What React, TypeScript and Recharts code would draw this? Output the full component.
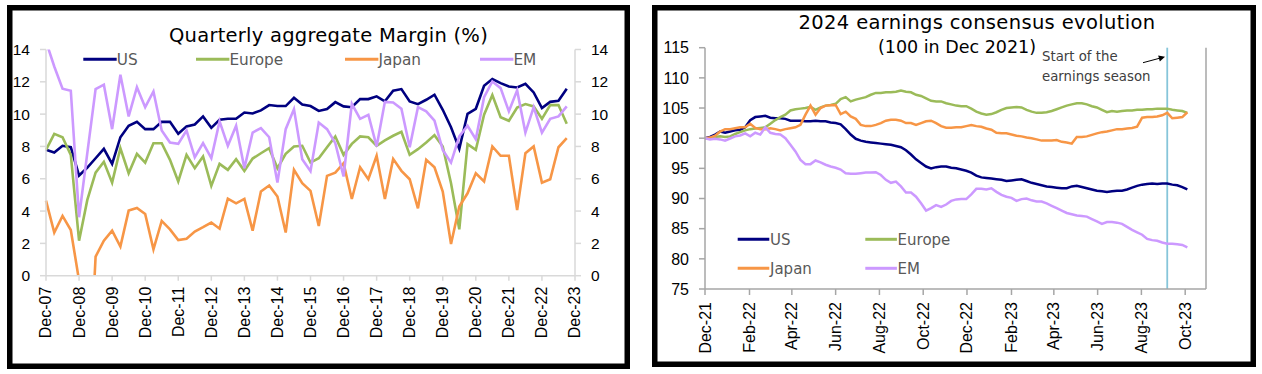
import React from 'react';
import { LineChart, Line, XAxis, YAxis, ReferenceLine } from 'recharts';

// ---------- Left chart: Quarterly aggregate Margin (%) ----------
const marginTickLabels = ['Dec-07','Dec-08','Dec-09','Dec-10','Dec-11','Dec-12','Dec-13','Dec-14','Dec-15','Dec-16','Dec-17','Dec-18','Dec-19','Dec-20','Dec-21','Dec-22','Dec-23'];
const usMargin = [7.79,7.62,8.04,7.95,6.2,6.69,7.27,7.85,6.92,8.57,9.28,9.52,9.07,9.07,9.52,9.52,8.78,9.24,9.36,9.86,9.15,9.65,9.71,9.71,10.1,10.04,10.23,10.56,10.5,10.5,11.01,10.6,10.5,10.2,10.31,10.74,10.48,10.43,10.93,10.93,11.1,10.79,11.45,11.55,10.79,10.62,10.89,11.2,10.27,9.19,7.85,10.02,10.33,11.76,12.17,11.92,11.71,11.65,11.88,11.34,10.37,10.76,10.83,11.57];
const europeMargin = [7.79,8.78,8.57,7.48,2.17,4.69,6.38,7.05,5.76,7.89,6.34,7.54,7.0,8.2,8.2,7.17,5.83,7.48,6.65,7.38,5.56,6.92,6.55,7.21,6.49,7.25,7.58,7.89,6.65,7.54,8.0,8.04,7.0,7.27,7.95,8.62,7.48,8.16,8.62,8.57,8.04,8.37,8.66,8.9,7.48,7.83,8.24,8.7,8.0,5.72,2.87,8.14,7.79,9.96,11.18,9.81,9.59,10.41,10.62,10.48,9.71,10.56,10.56,9.4];
const japanMargin = [4.65,2.67,3.7,2.83,-0.3,-9,1.18,2.17,2.79,1.8,4.03,4.19,3.82,1.63,3.39,2.87,2.21,2.29,2.73,3.0,3.29,2.91,4.77,4.48,4.75,2.79,5.21,5.58,4.9,2.67,6.55,5.72,5.25,3.08,6.18,6.38,6.96,4.75,6.71,5.97,7.42,4.75,7.23,6.49,5.97,4.17,7.17,6.71,5.21,1.96,4.28,5.1,6.34,5.83,8.0,7.42,7.42,4.07,7.58,8.0,5.76,5.97,7.95,8.51];
const emMargin = [14.5,12.95,11.57,11.45,3.62,7.6,11.55,11.82,9.07,12.44,9.86,11.67,10.43,11.4,8.99,8.24,8.16,8.99,7.33,8.2,7.27,9.55,8.04,9.28,6.65,8.86,9.13,8.57,5.76,9.07,10.31,7.21,6.47,9.48,9.07,8.2,6.14,10.64,9.71,9.96,8.0,10.76,10.72,10.33,7.95,10.43,10.17,9.59,7.79,7.0,8.62,9.28,8.45,11.05,12.02,11.61,10.17,11.47,8.86,10.43,8.86,9.71,9.86,10.48];
const marginYTicks = [0,2,4,6,8,10,12,14];

// ---------- Right chart: 2024 earnings consensus evolution ----------
const consensusStart = '2021-12-03';
const consensusTickDates = ['2021-12-03','2022-02-03','2022-04-03','2022-06-03','2022-08-03','2022-10-03','2022-12-03','2023-02-03','2023-04-03','2023-06-03','2023-08-03','2023-10-03'];
const consensusTickLabels = ['Dec-21','Feb-22','Apr-22','Jun-22','Aug-22','Oct-22','Dec-22','Feb-23','Apr-23','Jun-23','Aug-23','Oct-23'];
const earningsSeasonDate = '2023-09-08';
const usConsensus = [100.0,100.2,100.6,101.1,100.9,101.1,101.3,101.4,101.8,103.0,103.5,103.6,103.7,103.4,103.3,103.3,103.2,102.9,102.9,102.9,102.8,102.8,102.9,102.8,102.8,102.6,102.5,102.3,101.5,100.6,99.9,99.6,99.4,99.3,99.2,99.1,99.0,98.9,98.7,98.5,98.0,97.3,96.5,95.9,95.3,95.0,95.2,95.3,95.3,95.1,95.0,94.8,94.6,94.3,93.8,93.5,93.4,93.3,93.2,93.1,92.9,93.0,93.1,93.2,92.9,92.6,92.4,92.2,92.0,91.9,91.8,91.7,91.7,92.0,92.1,91.9,91.7,91.5,91.3,91.2,91.1,91.2,91.3,91.3,91.5,91.8,92.1,92.3,92.4,92.5,92.4,92.5,92.5,92.3,92.2,91.9,91.5];
const europeConsensus = [100.0,100.0,100.2,100.3,100.2,100.3,100.7,101.0,101.3,101.5,101.6,101.7,101.8,102.4,103.0,103.5,103.9,104.6,104.8,104.9,105.0,105.2,104.7,105.1,105.4,105.5,105.7,106.5,106.8,106.1,106.4,106.6,106.8,107.2,107.5,107.5,107.6,107.6,107.7,107.9,107.7,107.6,107.2,107.0,106.6,106.2,106.1,106.1,105.8,105.6,105.4,105.3,105.3,104.9,104.4,104.1,103.9,104.0,104.3,104.7,105.0,105.1,105.15,105.1,104.7,104.4,104.2,104.2,104.3,104.5,104.8,105.1,105.4,105.6,105.8,105.8,105.6,105.3,105.1,104.7,104.3,104.5,104.4,104.5,104.6,104.6,104.7,104.7,104.8,104.8,104.9,104.9,104.9,104.7,104.6,104.5,104.2];
const japanConsensus = [100.0,100.1,100.4,101.1,101.5,101.5,101.65,101.8,101.8,102.4,101.7,101.5,101.5,101.65,101.5,101.3,101.5,101.65,101.8,102.2,103.9,105.4,103.9,105.0,105.4,105.45,105.5,104.0,104.4,103.6,103.2,102.2,102.0,102.0,102.2,102.5,102.9,103.05,103.05,102.9,102.5,102.5,102.2,102.5,102.8,102.9,102.5,102.0,101.75,101.75,101.8,101.8,102.0,102.2,102.0,101.9,101.6,101.4,100.9,100.8,100.8,100.6,100.4,100.3,100.1,100.0,99.8,99.6,99.6,99.6,99.7,99.4,99.3,99.1,100.2,100.2,100.3,100.55,100.8,101.0,101.1,101.3,101.5,101.5,101.6,101.7,101.9,103.4,103.5,103.5,103.6,103.8,104.2,103.3,103.4,103.5,104.3];
const emConsensus = [100.0,99.8,99.9,99.8,99.6,99.95,100.3,100.45,100.8,100.3,100.9,100.6,101.8,100.9,100.7,100.6,100.0,98.9,97.8,96.4,95.7,95.7,96.3,96.0,95.6,95.3,95.1,94.8,94.2,94.1,94.1,94.2,94.3,94.3,94.35,93.9,93.1,92.6,92.8,92.0,91.0,91.0,90.3,89.2,88.0,88.4,88.9,88.6,89.0,89.6,89.85,89.9,89.9,90.7,91.6,91.6,91.5,91.7,91.1,90.6,90.3,90.1,89.6,89.9,90.0,89.7,89.5,89.5,89.2,88.8,88.4,88.0,87.6,87.4,87.2,87.1,87.0,86.6,86.2,85.8,86.1,86.1,86.0,85.8,85.3,84.8,84.4,84.0,83.3,83.1,83.0,82.7,82.5,82.5,82.4,82.3,81.9];
const consensusYTicks = [75,80,85,90,95,100,105,110,115];

const COLORS = { us: '#000080', europe: '#9bbb59', japan: '#f79646', em: '#cc99ff' };
const TICK_FONT = "'Liberation Sans', Arial, sans-serif";
const TEXT_FONT = "'DejaVu Sans', Verdana, sans-serif";

const dayOf = (d: string) => Math.round((Date.parse(d) - Date.parse(consensusStart)) / 86400000);

const marginData = usMargin.map((v, i) => ({
  x: i, us: v, europe: europeMargin[i], japan: japanMargin[i], em: emMargin[i],
}));
const marginTicks = marginTickLabels.map((_, i) => i * 4);
const marginLabelMap: Record<number, string> = {};
marginTicks.forEach((t, i) => { marginLabelMap[t] = marginTickLabels[i]; });

const consensusData = usConsensus.map((v, i) => ({
  x: i * 7, us: v, europe: europeConsensus[i], japan: japanConsensus[i], em: emConsensus[i],
}));
const consensusTicks = consensusTickDates.map(dayOf);
const consensusLabelMap: Record<number, string> = {};
consensusTicks.forEach((t, i) => { consensusLabelMap[t] = consensusTickLabels[i]; });

function makeRotTick(labels: Record<number, string>, fontSize: number) {
  return (props: any) => {
    const { x, y, payload } = props;
    const label = labels[payload.value] ?? '';
    return (
      <text x={x} y={y} transform={`rotate(-90 ${x} ${y})`} textAnchor="end" dominantBaseline="central"
        fontSize={fontSize} fontFamily={TICK_FONT} fill="#000">{label}</text>
    );
  };
}

const seriesKeys: Array<keyof typeof COLORS> = ['us', 'europe', 'japan', 'em'];

export default function App() {
  const leftAxis = '#d9d9d9';
  const rightAxis = '#a6a6a6';
  return (
    <div style={{ position: 'absolute', left: 0, top: 0, width: 1262, height: 374, background: '#fff', overflow: 'hidden' }}>
      {/* Left chart */}
      <div style={{ position: 'absolute', left: 0, top: 0 }}>
        <LineChart width={640} height={374} data={marginData} margin={{ top: 49.5, right: 0, bottom: 0, left: 0 }}>
          <XAxis dataKey="x" type="number" domain={[0, 64]} ticks={marginTicks} interval={0}
            height={98.3} tickSize={5} tickMargin={6}
            axisLine={{ stroke: leftAxis, strokeWidth: 1.5 }} tickLine={{ stroke: leftAxis, strokeWidth: 1.5 }}
            tick={makeRotTick(marginLabelMap, 16)} />
          <YAxis yAxisId="l" orientation="left" type="number" domain={[0, 14]} ticks={marginYTicks} allowDataOverflow
            width={46} tickSize={6} tickMargin={10} interval={0}
            axisLine={{ stroke: leftAxis, strokeWidth: 1.5 }} tickLine={{ stroke: leftAxis, strokeWidth: 1.5 }}
            tick={{ fill: '#000', fontSize: 15.5, fontFamily: TICK_FONT }} />
          <YAxis yAxisId="r" orientation="right" type="number" domain={[0, 14]} ticks={marginYTicks} allowDataOverflow
            width={65} tickSize={6} tickMargin={10} interval={0}
            axisLine={{ stroke: leftAxis, strokeWidth: 1.5 }} tickLine={{ stroke: leftAxis, strokeWidth: 1.5 }}
            tick={{ fill: '#000', fontSize: 15.5, fontFamily: TICK_FONT }} />
          {seriesKeys.map((k) => (
            <Line key={k} yAxisId="l" type="linear" dataKey={k} stroke={COLORS[k]} strokeWidth={2.6}
              dot={false} activeDot={false} isAnimationActive={false} />
          ))}
        </LineChart>
      </div>

      {/* Right chart */}
      <div style={{ position: 'absolute', left: 640, top: 0 }}>
        <LineChart width={622} height={374} data={consensusData} margin={{ top: 47.7, right: 0, bottom: 0, left: 0 }}>
          <XAxis dataKey="x" type="number" domain={[0, 698]} ticks={consensusTicks} interval={0}
            height={85} tickSize={6} tickMargin={7}
            axisLine={{ stroke: rightAxis, strokeWidth: 1.5 }} tickLine={{ stroke: rightAxis, strokeWidth: 1.5 }}
            tick={makeRotTick(consensusLabelMap, 16)} />
          <YAxis yAxisId="l" orientation="left" type="number" domain={[75, 115]} ticks={consensusYTicks}
            width={65} tickSize={6} tickMargin={10} interval={0}
            axisLine={{ stroke: rightAxis, strokeWidth: 1.5 }} tickLine={{ stroke: rightAxis, strokeWidth: 1.5 }}
            tick={{ fill: '#000', fontSize: 16, fontFamily: TICK_FONT }} />
          <YAxis yAxisId="r" orientation="right" type="number" domain={[75, 115]} ticks={consensusYTicks}
            width={56} tickSize={7} tickMargin={10} interval={0}
            axisLine={{ stroke: rightAxis, strokeWidth: 1.5 }} tickLine={{ stroke: rightAxis, strokeWidth: 1.5 }}
            tick={{ fill: '#000', fontSize: 16, fontFamily: TICK_FONT }} />
          <ReferenceLine yAxisId="l" x={dayOf(earningsSeasonDate)} stroke="#86c5da" strokeWidth={1.8} />
          {seriesKeys.map((k) => (
            <Line key={k} yAxisId="l" type="linear" dataKey={k} stroke={COLORS[k]} strokeWidth={2.5}
              dot={false} activeDot={false} isAnimationActive={false} />
          ))}
        </LineChart>
      </div>

      {/* Frames, titles, legends, annotation */}
      <svg width={1262} height={374} style={{ position: 'absolute', left: 0, top: 0, pointerEvents: 'none' }}>
        <rect x={9.75} y={7.75} width={617.5} height={358.5} fill="none" stroke="#000" strokeWidth={5.5} />
        <rect x={654.75} y={7.75} width={598.5} height={356.5} fill="none" stroke="#000" strokeWidth={5.5} />

        <text x={328.5} y={41.7} textAnchor="middle" fontFamily={TEXT_FONT} fontSize={19.5} letterSpacing={0.25} fill="#000">Quarterly aggregate Margin (%)</text>
        <text x={977} y={29.3} textAnchor="middle" fontFamily={TEXT_FONT} fontSize={19.5} letterSpacing={0.35} fill="#000">2024 earnings consensus evolution</text>
        <text x={957} y={53.3} textAnchor="middle" fontFamily={TEXT_FONT} fontSize={17.5} fill="#000">(100 in Dec 2021)</text>

        <text x={1042} y={60.7} fontFamily={TEXT_FONT} fontSize={13.3} fill="#404040">Start of the</text>
        <text x={1042} y={80.8} fontFamily={TEXT_FONT} fontSize={13.3} fill="#404040">earnings season</text>
        <line x1={1143} y1={62.7} x2={1159} y2={58.4} stroke="#000" strokeWidth={1} />
        <polygon points="1165,56.8 1158.2,55.6 1159.8,61.4" fill="#000" />

        {/* Left legend */}
        {[
          { k: 'us', label: 'US', x: 83.3 },
          { k: 'europe', label: 'Europe', x: 196 },
          { k: 'japan', label: 'Japan', x: 345 },
          { k: 'em', label: 'EM', x: 480 },
        ].map((it) => (
          <g key={it.k}>
            <line x1={it.x} x2={it.x + 33.4} y1={59.3} y2={59.3} stroke={(COLORS as any)[it.k]} strokeWidth={3} />
            <text x={it.x + 33.4} y={64.8} fontFamily={TEXT_FONT} fontSize={15.3} fill="#595959">{it.label}</text>
          </g>
        ))}

        {/* Right legend */}
        {[
          { k: 'us', label: 'US', x: 737.7, y: 239.3 },
          { k: 'europe', label: 'Europe', x: 865.3, y: 239.3 },
          { k: 'japan', label: 'Japan', x: 737.7, y: 268.3 },
          { k: 'em', label: 'EM', x: 865.3, y: 268.3 },
        ].map((it) => (
          <g key={it.k}>
            <line x1={it.x} x2={it.x + 31.6} y1={it.y} y2={it.y} stroke={(COLORS as any)[it.k]} strokeWidth={3} />
            <text x={it.x + 32.3} y={it.y + 5.6} fontFamily={TEXT_FONT} fontSize={15} fill="#595959">{it.label}</text>
          </g>
        ))}
      </svg>
    </div>
  );
}
